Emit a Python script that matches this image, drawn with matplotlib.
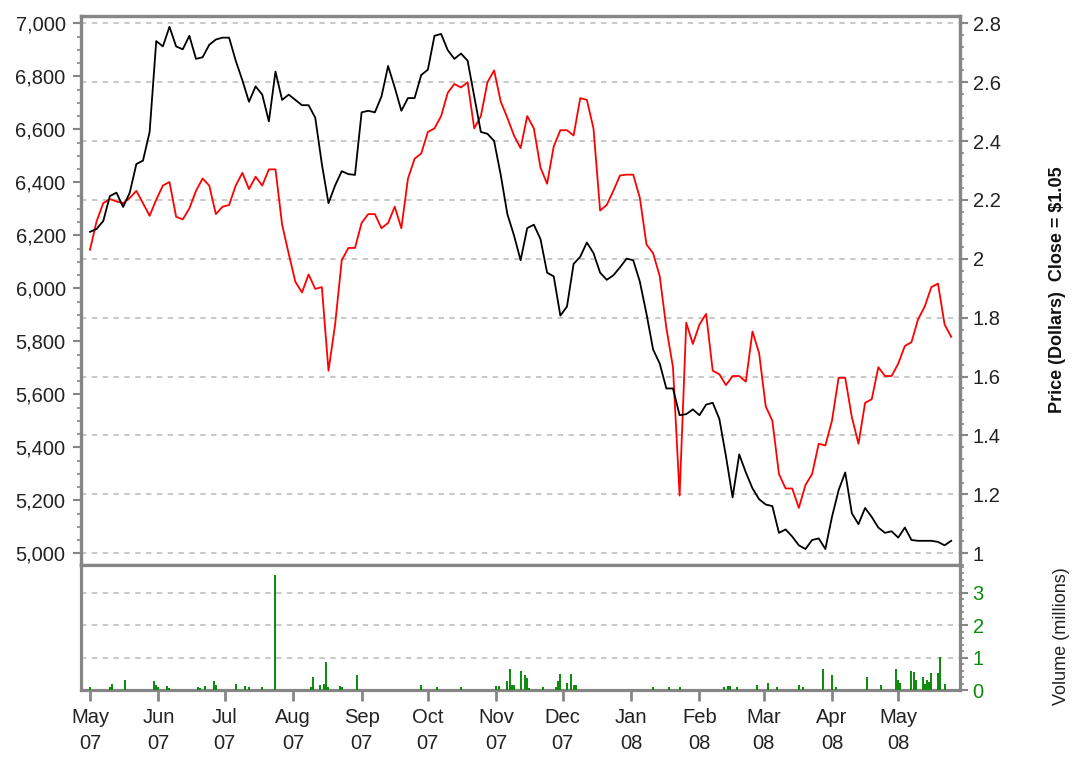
import pandas as pd
import matplotlib
matplotlib.use("Agg")
import matplotlib.pyplot as plt
import matplotlib.dates as mdates
from matplotlib.ticker import MultipleLocator, FuncFormatter

plt.rcParams["font.family"] = ["Liberation Sans", "DejaVu Sans"]

# ---------------------------------------------
# DATA (one sample every 3 days from 1 May 2007)
# ---------------------------------------------

start_date = "2007-05-01"

# index level (left axis, black)
index_level = [
    6213, 6224, 6254, 6348, 6361, 6307, 6361, 6469, 6482, 6590, 6933, 6913, 6987, 6913, 6902, 6953,
    6866, 6872, 6919, 6939, 6946, 6946, 6859, 6785, 6704, 6762, 6731, 6630, 6818, 6711, 6731, 6711,
    6691, 6691, 6644, 6469, 6321, 6388, 6442, 6431, 6428, 6664, 6670, 6664, 6724, 6839, 6758, 6670,
    6718, 6718, 6805, 6825, 6953, 6960, 6899, 6866, 6886, 6859, 6724, 6590, 6583, 6556, 6428, 6280,
    6200, 6106,
    6227, 6240, 6186, 6059, 6045, 5897, 5931, 6092, 6119, 6173, 6133, 6059, 6032, 6049, 6079, 6112,
    6106, 6025, 5904, 5769, 5716, 5622, 5622, 5521, 5525, 5543, 5521, 5561, 5568, 5507, 5366, 5211,
    5373, 5305, 5245, 5204, 5184, 5178, 5077, 5090, 5063, 5030, 5016, 5050, 5056, 5016, 5137, 5238,
    5305, 5151, 5110, 5171, 5137, 5097, 5077, 5083, 5059, 5097, 5050, 5047, 5047, 5047, 5043, 5030,
    5047,
]

# share price in dollars (right axis, red)
share_price = [
    2.031, 2.128, 2.189, 2.203, 2.195, 2.189, 2.207, 2.231, 2.189, 2.146, 2.201, 2.249, 2.261, 2.143,
    2.134, 2.171, 2.231, 2.273, 2.249, 2.152, 2.177, 2.183, 2.249, 2.292, 2.237, 2.279, 2.249, 2.304,
    2.304, 2.116, 2.017, 1.922,
    1.886, 1.947, 1.898, 1.904, 1.620, 1.777, 1.995, 2.037, 2.037, 2.122, 2.152, 2.152, 2.104, 2.122,
    2.177, 2.104, 2.273, 2.340, 2.358, 2.431, 2.443, 2.485, 2.564, 2.594, 2.582, 2.600, 2.443, 2.485,
    2.600, 2.640, 2.534, 2.479, 2.419, 2.376,
    2.485, 2.443, 2.310, 2.255, 2.382, 2.437, 2.437, 2.419, 2.546, 2.540, 2.443, 2.164, 2.183, 2.231,
    2.283, 2.286, 2.286, 2.207, 2.049, 2.019, 1.941, 1.765, 1.632, 1.196, 1.783, 1.711, 1.777, 1.813,
    1.620, 1.608, 1.571, 1.602,
    1.602, 1.583, 1.753, 1.680, 1.499, 1.450, 1.269, 1.220, 1.220, 1.154, 1.232, 1.269, 1.372, 1.366,
    1.450, 1.596, 1.596, 1.462, 1.372, 1.511, 1.523, 1.632, 1.602, 1.602, 1.644, 1.704, 1.717, 1.795,
    1.838, 1.904, 1.916, 1.777, 1.735,
]

# traded volume (millions), only days with a visible bar
vol_dates = [
    "2007-05-01", "2007-05-10", "2007-05-11", "2007-05-17", "2007-05-30", "2007-05-31", "2007-06-01",
    "2007-06-05", "2007-06-06", "2007-06-19", "2007-06-20", "2007-06-22", "2007-06-26", "2007-06-27",
    "2007-07-06", "2007-07-10", "2007-07-12", "2007-07-18", "2007-07-24", "2007-08-09", "2007-08-10",
    "2007-08-13", "2007-08-15", "2007-08-16", "2007-08-17", "2007-08-22", "2007-08-23", "2007-08-30",
    "2007-09-28", "2007-10-05", "2007-10-16", "2007-11-01", "2007-11-02", "2007-11-06", "2007-11-07",
    "2007-11-08", "2007-11-09", "2007-11-12", "2007-11-14", "2007-11-15", "2007-11-16", "2007-11-22",
    "2007-11-28", "2007-11-29", "2007-11-30", "2007-12-03", "2007-12-05", "2007-12-06", "2007-12-07",
    "2008-01-11", "2008-01-18", "2008-01-23", "2008-02-12", "2008-02-14", "2008-02-15", "2008-02-18",
    "2008-02-27", "2008-03-03", "2008-03-07", "2008-03-17", "2008-03-19", "2008-03-28", "2008-04-01",
    "2008-04-03", "2008-04-17", "2008-04-23", "2008-04-30", "2008-05-01", "2008-05-02", "2008-05-07",
    "2008-05-08", "2008-05-09", "2008-05-12", "2008-05-13", "2008-05-14", "2008-05-15", "2008-05-16",
    "2008-05-19", "2008-05-20", "2008-05-22",
]
vol_values = [
    0.08, 0.10, 0.20, 0.32, 0.27, 0.16, 0.10, 0.13, 0.05, 0.10, 0.07, 0.13, 0.27, 0.16,
    0.20, 0.13, 0.08, 0.08, 3.55, 0.08, 0.40, 0.14, 0.18, 0.85, 0.10, 0.13, 0.08, 0.46,
    0.14, 0.08, 0.08, 0.13, 0.13, 0.27, 0.65, 0.16, 0.14, 0.60, 0.46, 0.37, 0.05, 0.08,
    0.10, 0.27, 0.49, 0.21, 0.49, 0.16, 0.14, 0.08, 0.08, 0.08, 0.08, 0.11, 0.13, 0.08,
    0.16, 0.22, 0.08, 0.16, 0.08, 0.65, 0.46, 0.08, 0.40, 0.16, 0.65, 0.32, 0.22, 0.60,
    0.57, 0.32, 0.40, 0.18, 0.32, 0.25, 0.52, 0.52, 1.02, 0.20,
]

dates = pd.date_range(start_date, periods=len(index_level), freq="3D")
vol_dates = pd.to_datetime(vol_dates)

# -------------------------------
# FIGURE
# -------------------------------

spine_col = "#868686"
grid_col = "#c4c4c4"
green = "#0a8a0a"
fs = 14.5

fig = plt.figure(figsize=(10.74, 7.57), dpi=100)
ax = fig.add_axes([0.0754, 0.2536, 0.8185, 0.7253])      # price (right)
axl = ax.twinx()                                          # index (left)
axv = fig.add_axes([0.0754, 0.0885, 0.8185, 0.1651], sharex=ax)  # volume

# price axis with the grid
ax.plot(dates, share_price, color="red", lw=1.3, zorder=3)
ax.set_ylim(0.96, 2.825)
ax.yaxis.tick_right()
ax.yaxis.set_major_locator(MultipleLocator(0.2))
ax.yaxis.set_minor_locator(MultipleLocator(0.04))
ax.yaxis.set_major_formatter(FuncFormatter(lambda v, p: f"{round(v, 2):g}"))
ax.grid(axis="y", color=grid_col, lw=1.3, ls=(0, (3, 3)))
ax.tick_params(axis="y", which="major", direction="out", length=6, width=1.5,
               colors=spine_col, labelcolor="#222222", labelsize=fs, pad=3)
ax.tick_params(axis="y", which="minor", direction="out", length=3, width=1.2, colors=spine_col)
ax.tick_params(axis="x", bottom=False, labelbottom=False)

# index on the left
axl.plot(dates, index_level, color="black", lw=1.3, zorder=4)
axl.set_ylim(4955.6, 7027.8)
axl.yaxis.tick_left()
axl.yaxis.set_major_locator(MultipleLocator(200))
axl.yaxis.set_minor_locator(MultipleLocator(50))
axl.yaxis.set_major_formatter(FuncFormatter(lambda v, p: f"{v:,.0f}"))
axl.tick_params(axis="y", which="major", direction="out", length=6, width=1.5,
                colors=spine_col, labelcolor="#222222", labelsize=fs, pad=5)
axl.tick_params(axis="y", which="minor", direction="out", length=3, width=1.2, colors=spine_col)
axl.tick_params(axis="x", bottom=False, labelbottom=False)

for a in (ax, axl, axv):
    for s in a.spines.values():
        s.set_color(spine_col)
        s.set_linewidth(2.3)

# volume panel
axv.vlines(vol_dates, 0, vol_values, color=green, lw=1.4, zorder=3)
axv.set_ylim(0, 3.86)
axv.yaxis.tick_right()
axv.yaxis.set_major_locator(MultipleLocator(1))
axv.yaxis.set_minor_locator(MultipleLocator(0.2))
axv.grid(axis="y", color=grid_col, lw=1.3, ls=(0, (3, 3)))
axv.tick_params(axis="y", which="major", direction="out", length=6, width=1.5,
                colors=spine_col, labelcolor=green, labelsize=fs, pad=3)
axv.tick_params(axis="y", which="minor", direction="out", length=3, width=1.2, colors=spine_col)

axv.xaxis.set_major_locator(mdates.MonthLocator())
axv.xaxis.set_major_formatter(mdates.DateFormatter("%b\n%y"))
axv.tick_params(axis="x", direction="out", length=8, width=2, colors=spine_col,
                labelcolor="#222222", labelsize=fs, pad=5)
for lbl in axv.get_xticklabels():
    lbl.set_linespacing(1.45)
axv.set_xlim(pd.Timestamp("2007-04-26 22:00"), pd.Timestamp("2008-05-29"))

fig.text(1058 / 1074, 1 - 290 / 757, "Price (Dollars)  Close = $1.05", rotation=90,
         ha="center", va="center", fontsize=13, fontweight="bold", color="#111111")
fig.text(1062 / 1074, 1 - 636 / 757, "Volume (millions)", rotation=90,
         ha="center", va="center", fontsize=13, color="#222222")

fig.savefig("out.png", dpi=100)
